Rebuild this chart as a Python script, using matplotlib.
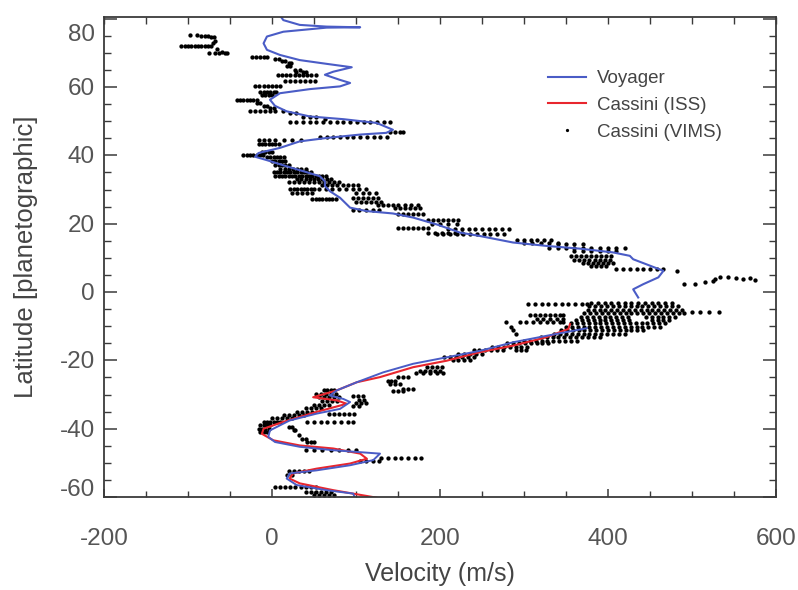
import matplotlib
matplotlib.use('Agg')
import matplotlib.pyplot as plt
from matplotlib.ticker import MultipleLocator
from matplotlib.transforms import offset_copy

plt.rcParams['font.family'] = ['Liberation Sans', 'DejaVu Sans']

# Voyager profile, northern part (lat, velocity)
voy_n_lat = [81.5, 79.6, 78.2, 77.7, 77.5, 77.4, 76.2, 74.8, 72.8, 70.9, 69.4, 67.9, 66.8, 65.8,
             64.5, 63.6, 62.1, 61.2, 60.2, 59.4, 58.2, 56.3, 54.5, 52.9, 51.4, 50.6, 49.5, 47.5,
             46.6, 46.1, 45.1, 44.1, 42.2, 40.7, 39.6, 38.6, 36.8, 35.1, 33.9, 32.4, 31.0, 29.5,
             27.6, 24.7, 23.7, 23.0, 21.8, 19.8, 17.4, 16.4, 14.5, 13.5, 12.7, 11.6, 10.6, 9.6,
             8.1, 6.2, 4.3, 2.3, 0.8, -1.6]
voy_n_vel = [8, 13.5, 33, 65, 105, 65, 13.5, -6, -10, -6, 9.5, 33, 65, 95,
             73, 63, 81, 93, 81, 45, 9.5, -2.4, 3.6, 17.5, 45, 85, 124.6, 144,
             136, 105, 65, 33, 9.5, -16, -20, -6, 17.5, 41, 57, 63, 63, 69,
             81, 93, 112.7, 144, 168, 196, 224, 247.6, 287, 327, 366.7, 406, 426, 430,
             446, 466, 460, 442, 430, 436]

# Voyager profile, southern part
voy_s_lat = [-10.6, -12.8, -14.7, -17.2, -19.1, -21.0, -23.5, -26.4, -28.8, -30.3, -31.3, -32.2,
             -34.2, -35.6, -37.6, -40.5, -42.4, -43.9, -45.3, -46.3, -47.3, -49.2, -50.7, -52.2,
             -53.1, -54.6, -56.5, -58.0, -59.0, -60.4]
voy_s_vel = [374.6, 327, 287, 247.6, 208, 168, 132.5, 101, 77, 69, 85, 93,
             81, 53, 21, -2.4, -4.4, 3.6, 33, 73, 128.6, 120.6, 93, 53,
             21, 17.5, 29.4, 65, 96.7, 99]

# Cassini ISS profile
iss_lat = [-9.4, -10.8, -13.2, -15.7, -17.6, -20.1, -22.0, -24.9, -26.4, -28.8, -30.8, -31.7,
           -32.7, -35.1, -38.0, -40.0, -41.5, -43.4, -44.9, -45.8, -47.3, -48.8, -50.2, -51.7,
           -53.1, -54.6, -56.0, -58.0, -60.2, -61.5]
iss_vel = [354.8, 352.8, 327, 287, 247.6, 208, 168, 128.6, 101, 77, 49, 77,
           89, 53, 13.5, -10, -12, 1.6, 33, 73, 105, 113, 93, 53,
           25, 21, 33, 73, 124.6, 140]

# Cassini VIMS cloud tracking: rows of (latitude, velocities)
vims_rows = [
    (75.3, [-98, -89]),
    (75.0, [-84, -80, -76]),
    (74.6, [-72, -69]),
    (73.6, [-68]),
    (73.0, [-70]),
    (72.1, [-108, -104, -100, -96, -92, -88, -84, -80, -76, -72]),
    (71.1, [-66]),
    (70.4, [-60]),
    (69.9, [-75, -68, -63, -56, -54]),
    (68.9, [-24, -19, -14, -10, -6]),
    (68.3, [4, 8]),
    (67.5, [12, 16]),
    (67.0, [20, 23]),
    (66.2, [18, 21]),
    (65.0, [27, 33]),
    (64.4, [29, 37, 41]),
    (63.6, [7, 12, 17, 22, 27, 32, 37, 42, 47, 53]),
    (61.9, [15, 21, 27, 33, 39, 45, 51]),
    (60.4, [-20, -15, -10, -5, 0, 5, 9]),
    (58.6, [-14, -10, -6, -2, 2, 5]),
    (57.6, [-12, -8, -4, 0]),
    (56.3, [-42, -38, -34, -30, -26, -22, -18]),
    (55.4, [-18, -14]),
    (54.5, [-10, -6]),
    (53.8, [-2, 2]),
    (52.9, [-26, -20, -14, -8, -2, 4, 13]),
    (52.3, [21, 29]),
    (51.3, [37, 45, 53]),
    (50.6, [63]),
    (49.7, [21, 29, 37, 45, 53, 61, 69, 77, 85, 93, 101, 109, 117, 125, 133, 141]),
    (46.8, [140, 146, 152, 156]),
    (45.5, [57, 65, 73, 81, 89, 97, 105, 113, 121, 129, 137]),
    (44.5, [-16, -10, -4, 4, 14, 24, 34]),
    (43.3, [-16, -12, -8, -4, 0, 4, 8]),
    (41.0, [-12, -8, -4, 0]),
    (40.2, [-34, -30, -26, -22, -18, -14, -11]),
    (39.5, [-6, -2, 2, 6, 10, 14]),
    (38.3, [0, 4, 8, 12, 16]),
    (37.3, [4, 8, 12, 16, 20]),
    (36.0, [10, 15, 20, 25, 30, 35, 40]),
    (35.0, [2, 6, 10, 14, 18, 22, 26, 30, 34, 38, 42, 46]),
    (34.0, [4, 8, 12, 16, 20, 24, 28, 32, 36, 40, 44, 48, 52, 56, 60, 64]),
    (33.0, [30, 35, 40, 45, 50, 55, 60, 65, 70]),
    (32.2, [20, 26, 32, 38, 44, 50, 56, 62, 68, 74, 80]),
    (31.3, [60, 66, 72, 78, 84, 90, 96, 102]),
    (30.3, [22, 26, 30, 34, 38, 42, 46, 50, 56, 64, 72, 80, 88, 96, 104, 112]),
    (29.0, [24, 30, 36, 42, 48, 100, 108, 116, 124]),
    (27.5, [96, 102, 108, 114, 120, 126]),
    (27.3, [48, 52, 56, 60, 64, 68, 72, 76]),
    (26.5, [100, 106, 112, 118, 124, 130]),
    (25.6, [126, 132, 138, 144, 150, 158, 166, 174]),
    (24.5, [146, 152, 158, 164, 170, 176]),
    (24.0, [96, 104, 112, 120, 128]),
    (22.8, [150, 156, 162, 168, 174, 180]),
    (21.0, [186, 192, 198, 204, 210, 216, 222]),
    (20.0, [190, 200, 210, 220]),
    (18.8, [150, 156, 162, 168, 174, 180, 186]),
    (18.5, [210, 218, 226, 234, 242, 250, 258, 266, 274, 282]),
    (17.2, [186, 194, 202, 210, 218, 226]),
    (17.0, [196, 204, 212, 220, 228, 236, 244, 252, 260, 268, 276]),
    (15.2, [292, 300, 308, 316, 324, 332]),
    (14.3, [300, 310, 320, 330, 340]),
    (14.0, [340, 350, 360, 370]),
    (13.0, [330, 340, 350, 360, 370, 380, 390, 400, 410, 420]),
    (12.0, [360, 370, 380, 390, 400, 410]),
    (10.5, [356, 362, 368, 374, 380, 386, 392, 398, 404]),
    (9.5, [360, 366, 372, 378, 384, 390, 396, 402]),
    (8.5, [370, 376, 382, 388, 394, 400, 406]),
    (7.5, [380, 386, 392, 398]),
    (6.8, [410, 418, 426, 434, 442, 450, 458, 466]),
    (6.2, [482]),
    (2.3, [490, 504]),
    (2.8, [516]),
    (3.3, [525]),
    (3.8, [527, 561]),
    (4.3, [533, 543]),
    (4.0, [553, 569]),
    (3.6, [575]),
    (-3.5, [305, 313, 321, 329, 337, 345, 353, 361, 369, 375]),
    (-3.2, [380, 388, 396, 404, 412, 420, 428, 436, 444, 452, 460, 468, 476]),
    (-4.2, [378, 385, 392, 399, 406, 413, 420, 427, 434, 441, 448, 455, 462, 469, 476, 483]),
    (-5.2, [376, 383, 390, 397, 404, 411, 418, 425, 432, 439, 446, 453, 460, 467, 474, 481, 488]),
    (-5.8, [500, 510, 520, 532]),
    (-6.2, [372, 379, 386, 393, 400, 407, 414, 421, 428, 435, 442, 449, 456, 463, 470, 477, 484, 491]),
    (-6.8, [307, 313, 319, 325, 331, 337, 343, 346]),
    (-7.2, [368, 375, 382, 389, 396, 403, 410, 417, 424, 445, 452, 459, 466, 473, 480]),
    (-7.8, [315, 323, 331, 339, 346]),
    (-8.2, [362, 369, 376, 383, 390, 397, 404, 411, 418, 425, 452, 459, 466, 473]),
    (-8.9, [279, 295, 303, 311, 319, 327, 335, 343, 346]),
    (-9.2, [356, 363, 370, 377, 384, 391, 398, 405, 412, 419, 426, 433, 440, 447, 454, 461, 468]),
    (-10.2, [285, 350, 357, 364, 371, 378, 385, 392, 399, 406, 413, 420, 427, 434, 441, 448, 455, 462]),
    (-11.2, [287, 344, 351, 358, 365, 372, 379, 386, 393, 400, 407, 414, 421, 428, 435, 442]),
    (-12.2, [291, 336, 343, 350, 357, 364, 371, 378, 385, 392, 399, 406, 413, 420]),
    (-13.2, [320, 327, 334, 341, 348, 355, 362, 369, 376, 383, 390]),
    (-14.2, [300, 307, 314, 321, 328, 335, 342, 349, 356, 363]),
    (-15.0, [280, 287, 294, 301, 308, 315, 322, 329]),
    (-16.0, [262, 269, 276, 283, 290, 297, 304]),
    (-17.0, [240, 247, 254, 261, 268, 275, 291, 297, 303]),
    (-18.0, [222, 229, 236, 243, 250]),
    (-19.0, [205, 212, 219, 226, 233, 240]),
    (-19.8, [215, 222, 229, 236]),
    (-21.8, [184, 190, 196, 202]),
    (-23.2, [176, 182, 188, 194, 200]),
    (-23.6, [172, 180, 188, 196, 204]),
    (-24.9, [150, 156, 162]),
    (-26.0, [138, 142, 146]),
    (-27.0, [140, 146, 152]),
    (-28.3, [156, 162, 168]),
    (-29.0, [144, 150, 156]),
    (-28.8, [62, 66, 70, 74]),
    (-29.8, [52, 58, 64, 70, 76]),
    (-30.5, [96, 102, 108]),
    (-30.8, [56, 62, 68, 74, 80]),
    (-31.5, [104, 110]),
    (-31.8, [60, 66, 72, 78]),
    (-32.5, [100, 106, 112]),
    (-33.0, [50, 56, 62, 68]),
    (-33.5, [96, 104]),
    (-34.0, [40, 46, 52, 58]),
    (-35.0, [30, 36, 42, 48]),
    (-35.6, [68, 74, 80, 86, 92, 98]),
    (-36.0, [14, 20, 26, 32, 38]),
    (-37.0, [0, 6, 12, 18, 24]),
    (-37.9, [42, 50, 58, 66, 74, 82, 90, 96]),
    (-38.0, [-10, -6, -2, 2, 6, 10]),
    (-39.0, [-14, -10, -6, -2]),
    (-39.5, [20, 24]),
    (-40.0, [-16, -12, -8, -4]),
    (-40.5, [26, 28]),
    (-41.0, [-14, -10, -6]),
    (-41.8, [32]),
    (-43.0, [36, 40]),
    (-43.9, [42, 46, 50]),
    (-46.2, [40, 50, 60, 70, 80, 90, 100]),
    (-48.5, [130, 138, 146, 154, 162, 170, 178]),
    (-49.5, [105, 112, 120, 128]),
    (-52.5, [20, 26, 32, 38, 44]),
    (-53.5, [18, 24]),
    (-57.0, [4, 10, 16, 22, 28, 34, 40, 46, 52]),
    (-58.5, [40, 46, 52, 58, 64, 70]),
    (-59.3, [50, 56, 62, 68, 74]),
]

vims_lat = [lat for lat, vels in vims_rows for v in vels]
vims_vel = [v for lat, vels in vims_rows for v in vels]

x_ticks = [-200, 0, 200, 400, 600]
y_ticks = [-60, -40, -20, 0, 20, 40, 60, 80]

blue = '#4a5cc6'
red = '#e8262e'
spine_col = '#3a3a3a'
text_col = '#555555'

fig = plt.figure(figsize=(7.98, 5.90), dpi=100)
ax = fig.add_axes([0.1303, 0.1576, 0.8421, 0.8141])

dots, = ax.plot(vims_vel, vims_lat, 'o', ms=3.1, mew=0, color='black', label='Cassini (VIMS)')
voy, = ax.plot(voy_n_vel, voy_n_lat, color=blue, lw=1.5, label='Voyager')
iss, = ax.plot(iss_vel, iss_lat, color=red, lw=1.5, label='Cassini (ISS)')
ax.plot(voy_s_vel, voy_s_lat, color=blue, lw=1.4)

ax.set_xlim(-200, 600)
ax.set_ylim(-59.7, 80.6)

for s in ax.spines.values():
    s.set_color(spine_col)
    s.set_linewidth(1.3)

ax.set_xticks(x_ticks)
ax.set_xticklabels([str(t) for t in x_ticks])
ax.xaxis.set_minor_locator(MultipleLocator(50))
ax.tick_params(axis='x', which='major', direction='in', length=6, width=1.1, color=spine_col,
               labelsize=17.5, labelcolor=text_col, pad=22, top=False)
ax.tick_params(axis='x', which='minor', direction='in', length=4, width=1.0, color=spine_col, top=False)

top_ax = ax.secondary_xaxis('top')
top_ax.xaxis.set_major_locator(MultipleLocator(50))
top_ax.tick_params(direction='in', length=5, width=1.0, color=spine_col, labeltop=False)
top_ax.spines['top'].set_visible(False)

ax.set_yticks(y_ticks)
ax.set_yticklabels([])
ax.yaxis.set_minor_locator(MultipleLocator(5))
ax.tick_params(axis='y', which='major', direction='in', length=9.5, width=1.1, color=spine_col,
               right=True)
ax.tick_params(axis='y', which='minor', direction='in', length=5, width=1.0, color=spine_col,
               right=True)

# y tick labels drawn by hand, the end labels sit inside the frame
shift = {80: -16, -60: 7}
for t in y_ticks:
    tr = offset_copy(ax.get_yaxis_transform(), fig=fig, x=-9, y=shift.get(t, -2), units='dots')
    ax.text(0, t, str(t), transform=tr, ha='right', va='center', fontsize=17.5, color=text_col)

ax.set_xlabel('Velocity (m/s)', fontsize=18, color='#444444', labelpad=9)
ax.set_ylabel('Latitude [planetographic]', fontsize=18.5, color='#444444', labelpad=44)

leg = ax.legend([voy, iss, dots], ['Voyager', 'Cassini (ISS)', 'Cassini (VIMS)'],
                loc='upper left', bbox_to_anchor=(548 / 798, 1 - 70 / 590),
                bbox_transform=fig.transFigure, frameon=False, fontsize=13.5,
                handlelength=2.0, handletextpad=0.6, labelspacing=0.52,
                borderpad=0, borderaxespad=0, numpoints=1, markerscale=0.75)
for txt in leg.get_texts():
    txt.set_color('#444444')

fig.savefig('out.png', dpi=100)
